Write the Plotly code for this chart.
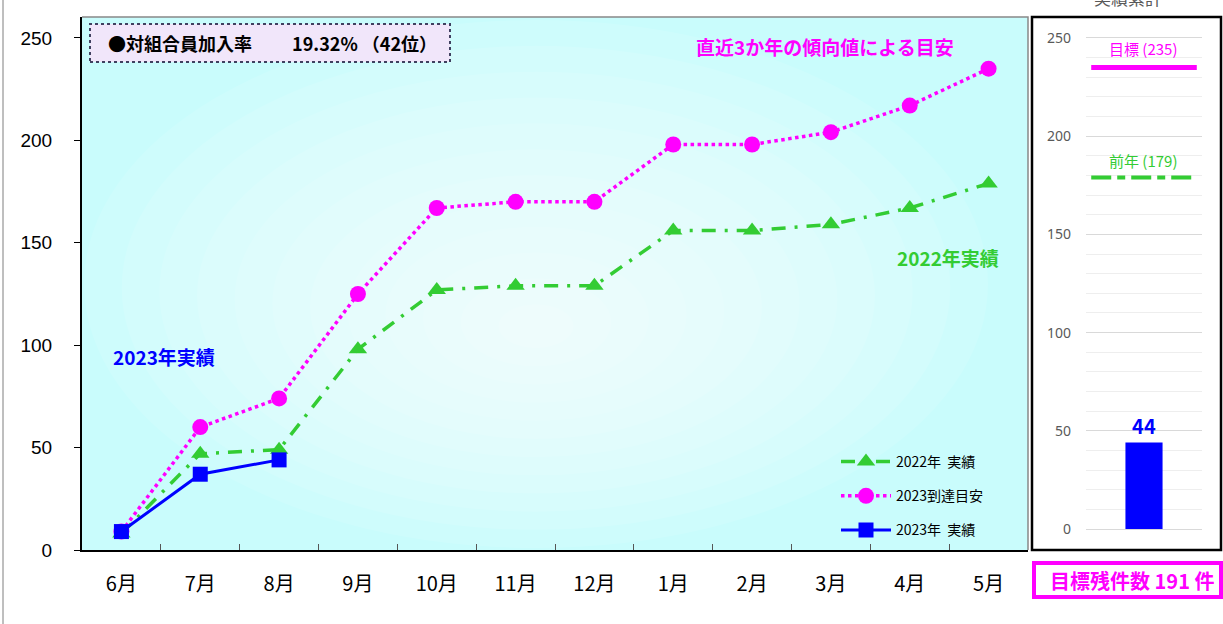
import plotly.graph_objects as go

# data
months = ["6月", "7月", "8月", "9月", "10月", "11月", "12月", "1月", "2月", "3月", "4月", "5月"]
jisseki_2022 = [8, 47, 49, 98, 127, 129, 129, 156, 156, 159, 167, 179]
meyasu_2023 = [9, 60, 74, 125, 167, 170, 170, 198, 198, 204, 217, 235]
jisseki_2023 = [9, 37, 44]

ruikei = 44
mokuhyo = 235
zennen = 179
zanken = mokuhyo - ruikei

W, H = 1223, 624
JP = "Noto Sans CJK JP"
NUM = "Liberation Sans, Noto Sans CJK JP"
MAGENTA = "#ff00ff"
GREEN = "#33cc33"
BLUE = "#0000ff"


def px(x):
    return x / W


def py(y):
    return 1 - y / H


fig = go.Figure()

fig.add_trace(go.Scatter(
    x=months, y=jisseki_2022, name="2022年  実績", legendgroup="a",
    mode="lines+markers",
    line=dict(color=GREEN, width=3.5, dash="14px,9px,3px,9px"),
    marker=dict(symbol="triangle-up", size=16, color=GREEN)))
fig.add_trace(go.Scatter(
    x=months, y=meyasu_2023, name="2023到達目安", legendgroup="b",
    mode="lines+markers",
    line=dict(color=MAGENTA, width=3.5, dash="dot"),
    marker=dict(symbol="circle", size=16, color=MAGENTA)))
fig.add_trace(go.Scatter(
    x=months[:len(jisseki_2023)], y=jisseki_2023, name="2023年  実績", legendgroup="c",
    mode="lines+markers",
    line=dict(color=BLUE, width=3),
    marker=dict(symbol="square", size=15, color=BLUE)))

# right panel: cumulative
fig.add_trace(go.Bar(
    x=[0], y=[ruikei], width=0.32, marker=dict(color=BLUE, line=dict(width=0)),
    xaxis="x2", yaxis="y2", showlegend=False,
    text=[str(ruikei)], textposition="outside",
    textfont=dict(family=JP, size=20, color=BLUE, weight="bold"), cliponaxis=False))
fig.add_trace(go.Scatter(
    x=[-0.455, 0.455], y=[mokuhyo, mokuhyo], mode="lines", xaxis="x2", yaxis="y2",
    line=dict(color=MAGENTA, width=5), showlegend=False))
fig.add_trace(go.Scatter(
    x=[-0.455, 0.455], y=[zennen, zennen], mode="lines", xaxis="x2", yaxis="y2",
    line=dict(color=GREEN, width=4, dash="20px,6px,8px,6px"), showlegend=False))

fig.update_layout(
    width=W, height=H,
    autosize=False,
    margin=dict(l=0, r=0, t=0, b=0),
    paper_bgcolor="white",
    plot_bgcolor="white",
    font=dict(family=NUM, color="black"),
    xaxis=dict(domain=[px(82), px(1028)], range=[-0.5, 11.5], showgrid=False, automargin=False,
               showline=True, linecolor="black", linewidth=2,
               ticks="inside", ticklen=6, tickcolor="#555", tickson="boundaries",
               tickfont=dict(family=JP, size=20, color="black"), ticklabelstandoff=15),
    yaxis=dict(domain=[py(550), py(17)], range=[0, 260.25], tickvals=[0, 50, 100, 150, 200, 250],
               showgrid=False, zeroline=False, showline=True, linecolor="black", linewidth=2,
               ticks="outside", ticklen=6, tickcolor="black", automargin=False,
               tickfont=dict(family=NUM, size=19, color="black"), ticklabelstandoff=18),
    xaxis2=dict(domain=[px(1086), px(1202)], range=[-0.5, 0.5], anchor="y2", automargin=False,
                showticklabels=False, showgrid=False, zeroline=False, showline=False),
    yaxis2=dict(domain=[py(537), py(30)], range=[-4.07, 254.07], anchor="x2", automargin=False,
                tickvals=[0, 50, 100, 150, 200, 250], ticks="", zeroline=False,
                showgrid=True, gridcolor="#d9d9d9", gridwidth=1,
                minor=dict(dtick=10, tick0=0, showgrid=True, gridcolor="#eeeeee", gridwidth=1),
                tickfont=dict(family="Noto Sans, " + JP, size=14, color="#595959"),
                ticklabelstandoff=14),
    legend=dict(x=px(836), y=py(446), xanchor="left", yanchor="top",
                bgcolor="rgba(0,0,0,0)", font=dict(family=JP, size=14, color="black"),
                itemwidth=50, tracegroupgap=13),
    showlegend=True,
)

# main plot background (cyan) with a soft radial glow
shapes = [dict(type="rect", xref="paper", yref="paper", layer="below",
               x0=px(82), x1=px(1028), y0=py(550), y1=py(17),
               fillcolor="#c9fcfc", line=dict(width=0))]
cx, cy = 536, 330
for i in range(12):
    f = 1 - i / 12
    shapes.append(dict(type="circle", xref="paper", yref="paper", layer="below",
                       x0=px(cx - 452 * f), x1=px(cx + 452 * f),
                       y0=py(cy + 218 * f), y1=py(cy - 310 * f),
                       fillcolor="rgba(255,255,255,0.1)", line=dict(width=0)))
shapes += [
    # outer left frame line
    dict(type="line", xref="paper", yref="paper", x0=px(3), x1=px(3), y0=0, y1=1,
         line=dict(color="#7f7f7f", width=1)),
    # top / right border of main plot
    dict(type="path", xref="paper", yref="paper",
         path=f"M {px(82)},{py(17)} L {px(1028)},{py(17)} L {px(1028)},{py(550)}",
         line=dict(color="#888888", width=1.5)),
    # top-left info box
    dict(type="rect", xref="paper", yref="paper", x0=px(90), x1=px(450), y0=py(62), y1=py(24),
         fillcolor="#f1e6fa", line=dict(color="#404060", width=2, dash="dot")),
    # right panel frame
    dict(type="rect", xref="paper", yref="paper", x0=px(1032), x1=px(1221), y0=py(550), y1=py(17),
         line=dict(color="black", width=2.5), layer="above"),
    # bottom remaining box
    dict(type="rect", xref="paper", yref="paper", x0=px(1034), x1=px(1221), y0=py(597), y1=py(563),
         line=dict(color=MAGENTA, width=4)),
]
fig.update_layout(shapes=shapes)

ann = [
    dict(x=px(106), y=py(43), text="●対組合員加入率　　 19.32% （42位）", xanchor="left",
         font=dict(family=JP, size=18, color="black", weight="bold")),
    dict(x=px(825), y=py(47), text="直近3か年の傾向値による目安",
         font=dict(family=JP, size=19, color=MAGENTA, weight="bold")),
    dict(x=px(948), y=py(257), text="2022年実績",
         font=dict(family=JP, size=19, color=GREEN, weight="bold")),
    dict(x=px(164), y=py(356), text="2023年実績",
         font=dict(family=JP, size=19, color=BLUE, weight="bold")),
    dict(x=px(1143), y=py(49), text=f"目標 ({mokuhyo})",
         font=dict(family=JP, size=15, color=MAGENTA)),
    dict(x=px(1143), y=py(160), text=f"前年 ({zennen})",
         font=dict(family=JP, size=15, color=GREEN)),
    dict(x=px(1132), y=py(580), text=f"目標残件数 {zanken} 件",
         font=dict(family=JP, size=20, color=MAGENTA, weight="bold")),
    dict(x=px(1128), y=py(-3), text="実績累計",
         font=dict(family=JP, size=17, color="#595959")),
]
for a in ann:
    a.setdefault("xanchor", "center")
    a.update(xref="paper", yref="paper", showarrow=False, yanchor="middle")
fig.update_layout(annotations=ann)

fig.write_html("out.html", config={"responsive": False, "displayModeBar": False},
               post_script="document.body.style.margin='0';")
